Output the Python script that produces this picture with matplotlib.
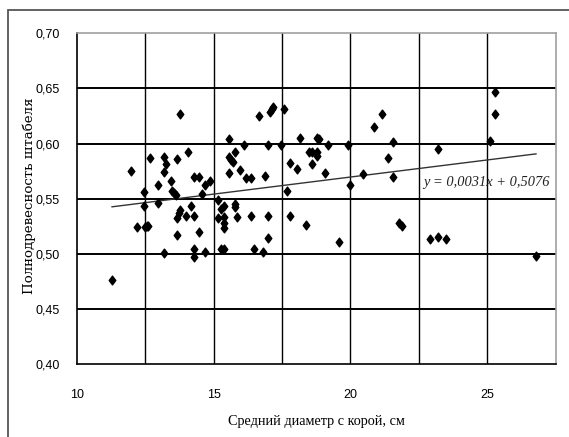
import matplotlib
matplotlib.use("Agg")
import matplotlib.pyplot as plt
from matplotlib.path import Path
from matplotlib.patches import Rectangle
from matplotlib import font_manager

# ---- data ----
diam = [11.29, 11.98, 12.19, 12.47, 12.47, 12.48, 12.56, 12.61, 12.69, 12.98, 12.97,
        13.18, 13.18, 13.27, 13.18, 13.46, 13.47, 13.55, 13.61, 13.67, 13.78, 13.77,
        13.75, 13.67, 13.67, 13.99, 14.07, 14.18, 14.27, 14.27, 14.27, 14.27, 14.47,
        14.47, 14.57, 14.68, 14.68, 14.87, 15.16, 15.16, 15.28, 15.37, 15.28, 15.37,
        15.37, 15.37, 15.37, 15.57, 15.57, 15.63, 15.70, 15.57, 15.77, 15.77, 15.77,
        15.87, 15.97, 16.10, 16.19, 16.36, 16.36, 16.47, 16.67, 16.79, 16.89, 16.99,
        16.99, 16.99, 17.05, 17.12, 17.16, 17.46, 17.58, 17.68, 17.78, 17.78, 18.06,
        18.15, 18.38, 18.48, 18.58, 18.59, 18.78, 18.78, 18.78, 18.86, 19.08, 19.17,
        19.58, 19.90, 19.98, 20.47, 20.87, 21.16, 21.37, 21.56, 21.56, 21.77, 21.87,
        22.89, 23.19, 23.19, 23.50, 25.09, 25.29, 25.29, 26.78]
fullness = [0.476, 0.575, 0.524, 0.556, 0.543, 0.524, 0.525, 0.525, 0.587, 0.562, 0.546,
            0.588, 0.574, 0.581, 0.501, 0.566, 0.557, 0.555, 0.553, 0.586, 0.627, 0.540,
            0.537, 0.532, 0.517, 0.534, 0.592, 0.543, 0.570, 0.534, 0.504, 0.497, 0.570,
            0.520, 0.554, 0.562, 0.502, 0.566, 0.549, 0.532, 0.541, 0.543, 0.504, 0.504,
            0.533, 0.528, 0.523, 0.604, 0.588, 0.585, 0.583, 0.573, 0.592, 0.545, 0.542,
            0.533, 0.576, 0.599, 0.569, 0.569, 0.534, 0.504, 0.625, 0.502, 0.571, 0.599,
            0.534, 0.514, 0.629, 0.631, 0.633, 0.599, 0.631, 0.557, 0.582, 0.534, 0.577,
            0.605, 0.526, 0.592, 0.581, 0.592, 0.605, 0.592, 0.589, 0.604, 0.573, 0.599,
            0.511, 0.599, 0.562, 0.572, 0.615, 0.627, 0.587, 0.601, 0.570, 0.528, 0.525,
            0.513, 0.595, 0.515, 0.513, 0.602, 0.647, 0.627, 0.498]
trend_slope = 0.0031
trend_intercept = 0.5076
trend_label = "y = 0,0031x + 0,5076"
x_ticks = [10, 15, 20, 25]
y_ticks = [0.40, 0.45, 0.50, 0.55, 0.60, 0.65, 0.70]
x_label = "Средний диаметр с корой, см"
y_label = "Полнодревесность штабеля"

# ---- fonts ----
names = {f.name for f in font_manager.fontManager.ttflist}
tick_font = ["Liberation Sans Narrow", "DejaVu Sans"] if "Liberation Sans Narrow" in names else ["Liberation Sans", "DejaVu Sans"]
serif = ["Liberation Serif", "DejaVu Serif"]

W, H = 569, 437
fig = plt.figure(figsize=(W / 100, H / 100), dpi=100)
fig.patch.set_facecolor("white")

# outer chart border
fig.patches.append(Rectangle((8 / W, -0.1), 1.2, 1 - 10 / H + 0.1, transform=fig.transFigure,
                             fill=False, edgecolor="#555555", linewidth=1.3))

ax = fig.add_axes([76.7 / W, 1 - 364 / H, (555.7 - 76.7) / W, (364 - 33.3) / H])
ax.set_xlim(10, 27.5)
ax.set_ylim(0.40, 0.70)

# grid
for gx in [12.5, 15, 17.5, 20, 22.5, 25]:
    ax.axvline(gx, color="black", linewidth=1.0, zorder=1)
for gy in [0.45, 0.50, 0.55, 0.60, 0.65]:
    ax.axhline(gy, color="black", linewidth=1.4, zorder=1)

# diamond marker
diamond = Path([(0, 1), (0.75, 0), (0, -1), (-0.75, 0), (0, 1)],
               [Path.MOVETO, Path.LINETO, Path.LINETO, Path.LINETO, Path.CLOSEPOLY])
ax.plot(diam, fullness, linestyle="none", marker=diamond, markersize=6.3,
        color="black", zorder=3)

# trend line
xs = [min(diam), max(diam)]
ys = [trend_slope * v + trend_intercept for v in xs]
ax.plot(xs, ys, color="#333333", linewidth=1.0, zorder=2)
ax.text(24.97, 0.5644, trend_label, fontsize=10.4, style="italic", family=serif,
        ha="center", va="center", color="#222222", zorder=4)

ax.set_xticks(x_ticks)
ax.set_xticklabels([str(v) for v in x_ticks], family=tick_font, fontsize=9)
ax.set_yticks(y_ticks)
ax.set_yticklabels([f"{v:.2f}".replace(".", ",") for v in y_ticks], family=tick_font, fontsize=9)
ax.tick_params(length=0, pad=12)
ax.tick_params(axis="x", pad=18)

for s in ["left", "bottom"]:
    ax.spines[s].set_color("black")
    ax.spines[s].set_linewidth(1.2)
for s in ["top", "right"]:
    ax.spines[s].set_color("#a0a0a0")
    ax.spines[s].set_linewidth(1.2)

fig.text(316 / W, 1 - 421 / H, x_label, family=serif, fontsize=10.3, ha="center", va="center")
fig.text(29 / W, 1 - 196 / H, y_label, family=["DejaVu Serif"], fontsize=9.6, ha="center",
         va="center", rotation=90)

fig.savefig("out.png", dpi=100)
